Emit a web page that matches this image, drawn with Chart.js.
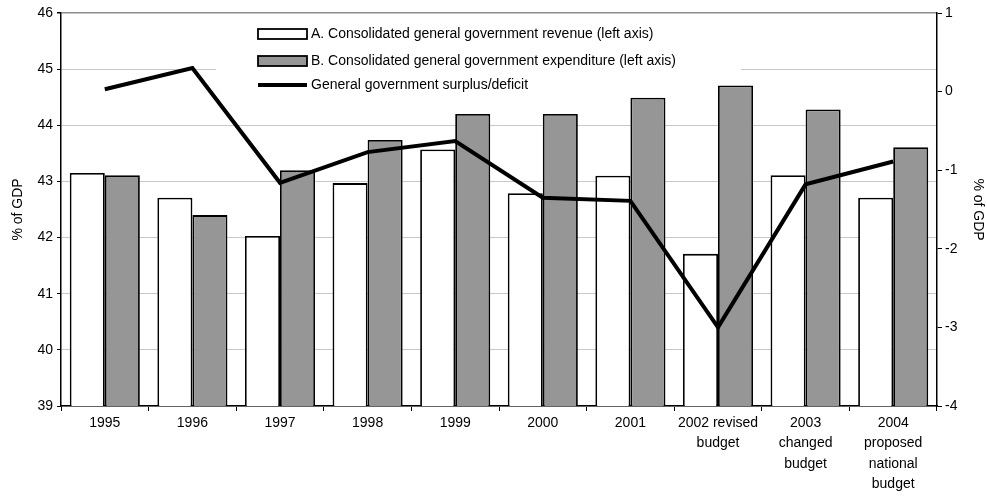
<!DOCTYPE html>
<html>
<head>
<meta charset="utf-8">
<script src="https://cdn.jsdelivr.net/npm/chart.js@4.4.0/dist/chart.umd.min.js"></script>
<style>
  html, body { margin: 0; padding: 0; background: #fff; }
  #wrap { width: 987px; height: 504px; }
</style>
</head>
<body>
<div id="wrap"><canvas id="budgetChart" width="987" height="504"></canvas></div>
<script>
// Years / budget stages on the x axis
const categories = [
  "1995", "1996", "1997", "1998", "1999", "2000", "2001",
  ["2002 revised", "budget"],
  ["2003", "changed", "budget"],
  ["2004", "proposed", "national", "budget"]
];

// Consolidated general government revenue, % of GDP (left axis)
const revenue = [43.15, 42.71, 42.03, 42.97, 43.57, 42.79, 43.10, 41.71, 43.11, 42.71];
// Consolidated general government expenditure, % of GDP (left axis)
const expenditure = [43.11, 42.40, 43.20, 43.74, 44.20, 44.20, 44.49, 44.71, 44.28, 43.61];
// General government surplus/deficit, % of GDP (right axis)
const balance = [0.03, 0.30, -1.16, -0.77, -0.63, -1.35, -1.39, -3.00, -1.18, -0.89];

const seriesNames = [
  "A. Consolidated general government revenue (left axis)",
  "B. Consolidated general government expenditure (left axis)",
  "General government surplus/deficit"
];

const leftTicks = [39, 40, 41, 42, 43, 44, 45, 46];
const rightTicks = [-4, -3, -2, -1, 0, 1];

const FONT = "'Liberation Sans', Arial, sans-serif";
const GREY = "#969696";

// Legend sits inside the plot, on a white patch that hides the grid behind it
const legendInPlot = {
  id: "legendInPlot",
  beforeDatasetsDraw(chart) {
    const ctx = chart.ctx;
    ctx.save();
    ctx.fillStyle = "#fff";
    ctx.fillRect(216, 21, 525, 72);

    const x0 = 258, x1 = 307;
    const rows = [34, 61, 85];
    ctx.lineWidth = 1.8;
    ctx.strokeStyle = "#000";

    ctx.fillStyle = "#fff";
    ctx.fillRect(x0, rows[0] - 5, x1 - x0, 10);
    ctx.strokeRect(x0, rows[0] - 5, x1 - x0, 10);

    ctx.fillStyle = GREY;
    ctx.fillRect(x0, rows[1] - 5, x1 - x0, 10);
    ctx.strokeRect(x0, rows[1] - 5, x1 - x0, 10);

    ctx.lineWidth = 4;
    ctx.beginPath();
    ctx.moveTo(x0, rows[2]);
    ctx.lineTo(x1, rows[2]);
    ctx.stroke();

    ctx.fillStyle = "#000";
    ctx.font = "14px " + FONT;
    ctx.textBaseline = "middle";
    ctx.textAlign = "left";
    seriesNames.forEach((name, i) => ctx.fillText(name, x1 + 4, rows[i]));
    ctx.restore();
  }
};

const ctx = document.getElementById("budgetChart").getContext("2d");

new Chart(ctx, {
  type: "bar",
  data: {
    labels: categories,
    datasets: [
      {
        type: "line",
        label: seriesNames[2],
        data: balance,
        yAxisID: "y1",
        borderColor: "#000",
        borderWidth: 4,
        pointRadius: 0,
        tension: 0,
        order: 0
      },
      {
        label: seriesNames[0],
        data: revenue,
        yAxisID: "y",
        backgroundColor: "#fff",
        borderColor: "#000",
        borderWidth: 1.8,
        categoryPercentage: 0.8,
        barPercentage: 1.0,
        order: 1
      },
      {
        label: seriesNames[1],
        data: expenditure,
        yAxisID: "y",
        backgroundColor: GREY,
        borderColor: "#000",
        borderWidth: 1.8,
        categoryPercentage: 0.8,
        barPercentage: 1.0,
        order: 1
      }
    ]
  },
  options: {
    responsive: false,
    animation: false,
    layout: { padding: { top: 13, left: 0, right: 0, bottom: 0 } },
    plugins: {
      legend: { display: false },
      tooltip: { enabled: false }
    },
    scales: {
      x: {
        afterFit: s => { s.height = 98; },
        grid: {
          drawOnChartArea: false,
          offset: true,
          tickLength: 5,
          tickColor: "#000"
        },
        border: { color: "#000", width: 1.5 },
        ticks: {
          color: "#000",
          padding: 2,
          maxRotation: 0,
          autoSkip: false,
          font: { family: FONT, size: 14, lineHeight: 1.45 }
        }
      },
      y: {
        position: "left",
        min: 39,
        max: 46,
        afterFit: s => { s.width = 61; },
        afterBuildTicks: s => { s.ticks = leftTicks.map(v => ({ value: v })); },
        grid: {
          color: c => (c.tick && c.tick.value === 46 ? "#8c8c8c" : "#c8c8c8"),
          lineWidth: c => (c.tick && c.tick.value === 46 ? 1.5 : 1),
          tickColor: "#000",
          tickLength: 4
        },
        border: { color: "#000", width: 1.5 },
        ticks: {
          color: "#000",
          padding: 4,
          font: { family: FONT, size: 14 }
        },
        title: {
          display: true,
          text: "% of GDP",
          color: "#000",
          padding: { top: 10, bottom: 0 },
          font: { family: FONT, size: 14 }
        }
      },
      y1: {
        position: "right",
        min: -4,
        max: 1,
        afterFit: s => { s.width = 50; },
        afterBuildTicks: s => { s.ticks = rightTicks.map(v => ({ value: v })); },
        grid: {
          drawOnChartArea: false,
          tickColor: "#000",
          tickLength: 5
        },
        border: { color: "#000", width: 1.5 },
        ticks: {
          color: "#000",
          padding: 3,
          font: { family: FONT, size: 14 }
        },
        title: {
          display: true,
          text: "% of GDP",
          color: "#000",
          padding: { top: 1, bottom: 0 },
          font: { family: FONT, size: 14 }
        }
      }
    }
  },
  plugins: [legendInPlot]
});
</script>
</body>
</html>
